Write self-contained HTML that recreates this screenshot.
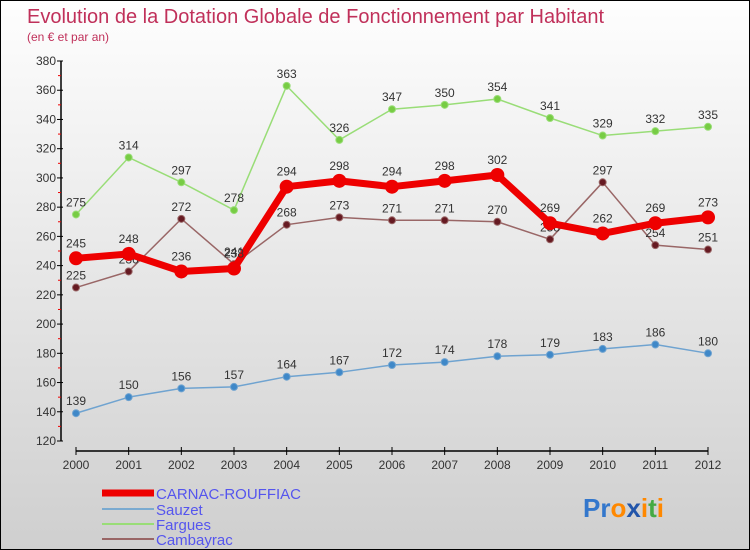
<!DOCTYPE html>
<html><head><meta charset="utf-8"><style>
body{margin:0}
#c{position:relative;width:748px;height:548px;border:1px solid #000;background:linear-gradient(#fefefe,#cfcfcf);font-family:"Liberation Sans",sans-serif;overflow:hidden}
</style></head><body>
<div id="c">
<svg id="s" width="748" height="548" xmlns="http://www.w3.org/2000/svg">
<text x="26" y="22" font-size="20" fill="#c0305a">Evolution de la Dotation Globale de Fonctionnement par Habitant</text>
<text x="26" y="40" font-size="12" fill="#c0305a">(en € et par an)</text>
<g id="axes"></g><g id="series"></g>
<g>
<line x1="101" y1="492" x2="153" y2="492" stroke="#e00" stroke-width="7"/>
<text x="155" y="498" font-size="15" fill="#5555ee">CARNAC-ROUFFIAC</text>
<line x1="101" y1="508" x2="153" y2="508" stroke="#7aaad0" stroke-width="2"/>
<text x="155" y="514" font-size="15" fill="#5555ee">Sauzet</text>
<line x1="101" y1="523" x2="153" y2="523" stroke="#99dd77" stroke-width="2"/>
<text x="155" y="529" font-size="15" fill="#5555ee">Fargues</text>
<line x1="101" y1="538" x2="153" y2="538" stroke="#996666" stroke-width="2"/>
<text x="155" y="544" font-size="15" fill="#5555ee">Cambayrac</text>
</g>
<text x="582" y="516" font-size="26" font-weight="bold"><tspan fill="#3377cc">Pr</tspan><tspan fill="#ff8800">o</tspan><tspan fill="#2255aa">x</tspan><tspan fill="#ff8800">i</tspan><tspan fill="#44aa44">t</tspan><tspan fill="#ff8800">i</tspan></text>
</svg></div>
<script>
const years=["2000","2001","2002","2003","2004","2005","2006","2007","2008","2009","2010","2011","2012"];
const yTicks=[120,140,160,180,200,220,240,260,280,300,320,340,360,380];
const carnac=[245,248,236,238,294,298,294,298,302,269,262,269,273];
const sauzet=[139,150,156,157,164,167,172,174,178,179,183,186,180];
const fargues=[275,314,297,278,363,326,347,350,354,341,329,332,335];
const cambayrac=[225,236,272,241,268,273,271,271,270,258,297,254,251];
const NS="http://www.w3.org/2000/svg";
function X(i){return 75+i*(707-75)/12;}
function Y(v){return 60+(380-v)*380/260;}
function mk(t,a,p){const e=document.createElementNS(NS,t);for(const k in a)e.setAttribute(k,a[k]);if(p)p.appendChild(e);return e;}
const ax=document.getElementById('axes');
mk('line',{x1:60,y1:60,x2:60,y2:440,stroke:'#000','stroke-width':1.5},ax);
mk('line',{x1:75,y1:450,x2:707,y2:450,stroke:'#000','stroke-width':1.5},ax);
yTicks.forEach(v=>{
  mk('line',{x1:56,y1:Y(v),x2:62,y2:Y(v),stroke:'#000'},ax);
  if(v<380){mk('line',{x1:57,y1:Y(v+10),x2:60,y2:Y(v+10),stroke:'#e00'},ax);}
  const t=mk('text',{x:55,y:Y(v)+4,'font-size':12,fill:'#333','text-anchor':'end'},ax);
  
  
  t.textContent=v;
});
years.forEach((y,i)=>{
  mk('line',{x1:X(i),y1:446,x2:X(i),y2:454,stroke:'#000'},ax);
  const t=mk('text',{x:X(i),y:468,'font-size':12,fill:'#333','text-anchor':'middle'},ax);
  
  
  t.textContent=y;
});
const sg=document.getElementById('series');
function draw(vals,color,dot,w,r,name){
  const g=mk('g',{},sg);
  
  
  mk('polyline',{points:vals.map((v,i)=>X(i)+','+Y(v)).join(' '),fill:'none',stroke:color,'stroke-width':w,'stroke-linejoin':'round'},g);
  vals.forEach((v,i)=>{
    const c=mk('circle',{cx:X(i),cy:Y(v),r:r,fill:dot,stroke:color,'stroke-width':r>5?0:1},g);
    
    
    const t=mk('text',{x:X(i),y:Y(v)-(r>5?11:8),'font-size':12,fill:'#333','text-anchor':'middle'},g);
    
    
    t.textContent=v;
  });
}
draw(sauzet,'#6fa3d0','#3f88c8',1.5,3.5,'sauzet-series');
draw(fargues,'#99dd77','#77cc44',1.5,3.5,'fargues-series');
draw(cambayrac,'#996666','#661a22',1.5,3.5,'cambayrac-series');
draw(carnac,'#ee0000','#ee0000',7,7,'carnac-series');
</script>
</body></html>
